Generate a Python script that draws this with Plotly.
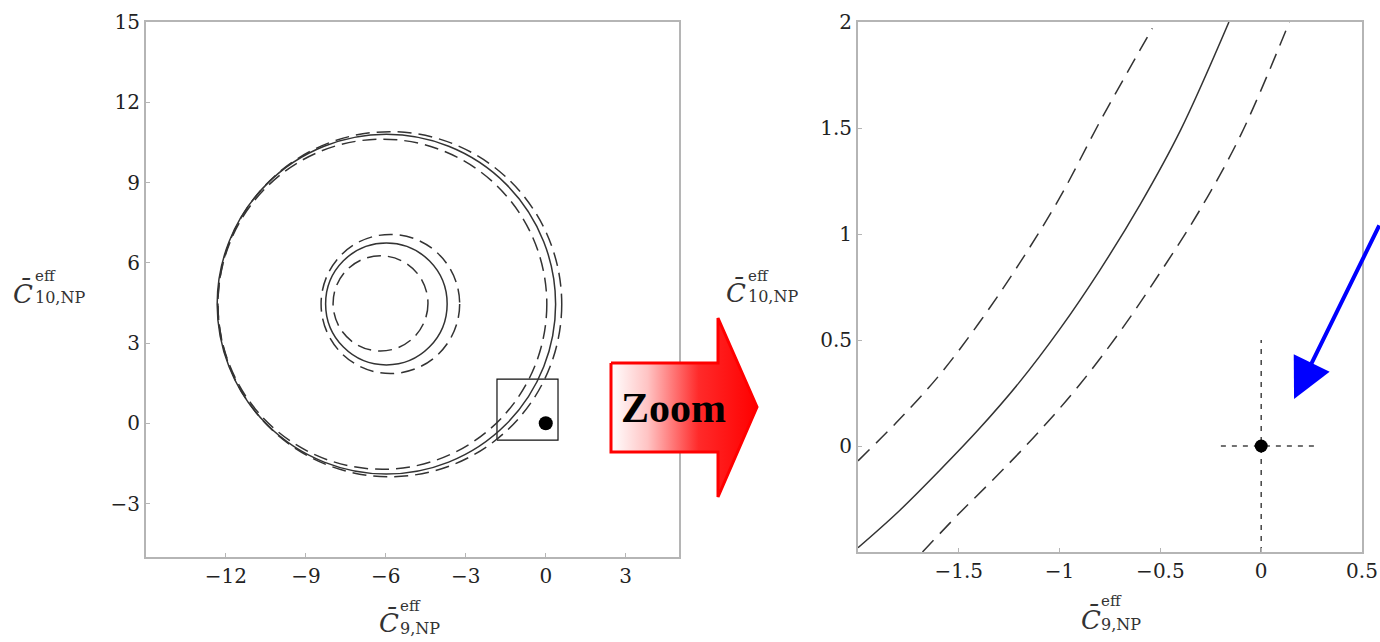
import plotly.graph_objects as go

W, H = 1380, 642

# ---------------- data ----------------
# Left panel: contour circles (centre x, centre y, radius, style)
circle_cx = [-5.98, -6.13, -5.85, -5.98, -6.20, -5.83]
circle_cy = [4.45, 4.45, 4.45, 4.46, 4.48, 4.46]
circle_r = [6.35, 6.17, 6.45, 2.28, 1.78, 2.60]
circle_dash = ["solid", "dash", "dash", "solid", "dash", "dash"]

# Standard-model point
sm_x = [0.0]
sm_y = [0.0]

# Zoom window drawn in the left panel
zoom_box_x = [-1.83, 0.46]
zoom_box_y = [-0.63, 1.65]

# Right panel: zoomed contour lines
solid_x = [-2.0, -1.8, -1.6, -1.4, -1.2, -1.0, -0.8, -0.6, -0.4, -0.16]
solid_y = [-0.48, -0.31, -0.12, 0.08, 0.30, 0.55, 0.83, 1.14, 1.49, 2.0]
dash_left_x = [-2.0, -1.8, -1.6, -1.4, -1.2, -1.0, -0.8, -0.54]
dash_left_y = [-0.07, 0.12, 0.33, 0.58, 0.86, 1.17, 1.53, 1.97]
dash_right_x = [-1.68, -1.5, -1.3, -1.1, -0.9, -0.7, -0.5, -0.3, -0.1, 0.14]
dash_right_y = [-0.5, -0.32, -0.13, 0.07, 0.29, 0.54, 0.82, 1.12, 1.47, 2.0]

# Error cross around SM point
err_hx = [-0.2, 0.28]
err_vy = [-0.5, 0.5]

# Ticks
left_xticks = [-12, -9, -6, -3, 0, 3]
left_yticks = [-3, 0, 3, 6, 9, 12, 15]
right_xticks = [-1.5, -1, -0.5, 0, 0.5]
right_xtext = ["\u22121.5", "\u22121", "\u22120.5", "0", "0.5"]
right_yticks = [0, 0.5, 1, 1.5, 2]
right_ytext = ["0", "0.5", "1", "1.5", "2"]

# Decorative arrow (pixel coordinates of overlay)
zoom_arrow_x = [611, 718, 718, 757, 718, 718, 611, 611]
zoom_arrow_y = [363, 363, 318, 407, 497, 452, 452, 363]

# ---------------- figure ----------------
fig = go.Figure()

LINE = "#333333"
# left panel: SM point and zoom box
fig.add_trace(go.Scatter(x=[zoom_box_x[0], zoom_box_x[1], zoom_box_x[1], zoom_box_x[0], zoom_box_x[0]],
                         y=[zoom_box_y[0], zoom_box_y[0], zoom_box_y[1], zoom_box_y[1], zoom_box_y[0]],
                         mode="lines", line=dict(color="#111", width=1.2), xaxis="x", yaxis="y",
                         hoverinfo="skip"))
fig.add_trace(go.Scatter(x=sm_x, y=sm_y, mode="markers",
                         marker=dict(color="black", size=14), xaxis="x", yaxis="y"))

shapes = []
for cx, cy, r, d in zip(circle_cx, circle_cy, circle_r, circle_dash):
    shapes.append(dict(type="circle", xref="x", yref="y",
                       x0=cx - r, x1=cx + r, y0=cy - r, y1=cy + r,
                       line=dict(color=LINE, width=1.5,
                                 dash="solid" if d == "solid" else "14px,7px")))

# right panel
fig.add_trace(go.Scatter(x=solid_x, y=solid_y, mode="lines", line=dict(color=LINE, width=1.5, shape="spline"),
                         xaxis="x2", yaxis="y2"))
fig.add_trace(go.Scatter(x=dash_left_x, y=dash_left_y, mode="lines",
                         line=dict(color=LINE, width=1.5, dash="16px,9px", shape="spline"),
                         xaxis="x2", yaxis="y2"))
fig.add_trace(go.Scatter(x=dash_right_x, y=dash_right_y, mode="lines",
                         line=dict(color=LINE, width=1.5, dash="16px,9px", shape="spline"),
                         xaxis="x2", yaxis="y2"))
fig.add_trace(go.Scatter(x=err_hx, y=[sm_y[0], sm_y[0]], mode="lines",
                         line=dict(color="#444", width=1.5, dash="5px,6px"), xaxis="x2", yaxis="y2"))
fig.add_trace(go.Scatter(x=[sm_x[0], sm_x[0]], y=err_vy, mode="lines",
                         line=dict(color="#444", width=1.5, dash="5px,6px"), xaxis="x2", yaxis="y2"))
fig.add_trace(go.Scatter(x=sm_x, y=sm_y, mode="markers", marker=dict(color="black", size=13),
                         xaxis="x2", yaxis="y2"))

# overlay: red "Zoom" arrow
fig.add_trace(go.Scatter(x=zoom_arrow_x, y=zoom_arrow_y, mode="lines", fill="toself",
                         fillgradient=dict(type="horizontal",
                                           colorscale=[[0, "#ffffff"], [0.25, "#ffc4c4"],
                                                       [0.6, "#ff2a2a"], [1, "#ff0000"]]),
                         line=dict(color="#ff0000", width=3), xaxis="x3", yaxis="y3",
                         hoverinfo="skip"))

axis_common = dict(showline=True, mirror=True, linecolor="#b5b5b5", linewidth=2,
                   ticks="inside", ticklen=4, tickcolor="#b5b5b5", tickwidth=1,
                   showgrid=False, zeroline=False, automargin=False,
                   tickfont=dict(family="DejaVu Serif", size=20, color="#222"))

def px_x(p):
    return p / W

def px_y(p):
    return 1 - p / H

fig.update_layout(
    template="none",
    width=W, height=H, margin=dict(l=0, r=0, t=0, b=0, autoexpand=False),
    paper_bgcolor="white", plot_bgcolor="rgba(0,0,0,0)", showlegend=False,
    xaxis=dict(domain=[px_x(146), px_x(679)], range=[-15, 5], tickvals=left_xticks,
               anchor="y", **axis_common),
    yaxis=dict(domain=[px_y(557), px_y(22)], range=[-5, 15], tickvals=left_yticks,
               anchor="x", **axis_common),
    xaxis2=dict(domain=[px_x(858), px_x(1362)], range=[-2, 0.5], tickvals=right_xticks,
                ticktext=right_xtext, anchor="y2", **axis_common),
    yaxis2=dict(domain=[px_y(552), px_y(22)], range=[-0.5, 2], tickvals=right_yticks,
                ticktext=right_ytext, anchor="x2", **axis_common),
    xaxis3=dict(domain=[0, 1], range=[0, W], visible=False, anchor="y3", fixedrange=True,
                automargin=False),
    yaxis3=dict(domain=[0, 1], range=[H, 0], visible=False, anchor="x3", fixedrange=True,
                automargin=False),
    shapes=shapes,
)

ann = []

def title(cx_left, cy, sup_left, sup_y, sub_y, sub):
    ann.append(dict(x=px_x(cx_left), y=px_y(cy), xref="paper", yref="paper", xanchor="left",
                    yanchor="middle", showarrow=False, text="<i>C\u0304</i>",
                    font=dict(family="DejaVu Serif", size=26, color="#333")))
    ann.append(dict(x=px_x(sup_left), y=px_y(sup_y), xref="paper", yref="paper", xanchor="left",
                    yanchor="middle", showarrow=False, text="eff",
                    font=dict(family="DejaVu Serif", size=15, color="#333")))
    ann.append(dict(x=px_x(sup_left), y=px_y(sub_y), xref="paper", yref="paper", xanchor="left",
                    yanchor="middle", showarrow=False, text=sub,
                    font=dict(family="DejaVu Serif", size=16, color="#333")))

title(11, 294, 33, 276, 297, "10,NP")
title(724, 292, 746, 276, 296, "10,NP")
title(377, 622, 398, 606, 628, "9,NP")
title(1079, 619, 1099, 601, 624, "9,NP")

ann.append(dict(x=px_x(673), y=px_y(408), xref="paper", yref="paper", xanchor="center",
                yanchor="middle", showarrow=False, text="<b>Zoom</b>",
                font=dict(family="Liberation Serif", size=42, color="black")))

# blue arrow
ann.append(dict(x=0.163, y=0.222, xref="x2", yref="y2", ax=103, ay=-175, axref="pixel", ayref="pixel",
                showarrow=True, arrowhead=2, arrowsize=2.0, arrowwidth=4, arrowcolor="#0000ff",
                text=""))

fig.update_layout(annotations=ann)

fig.write_html("out.html")
